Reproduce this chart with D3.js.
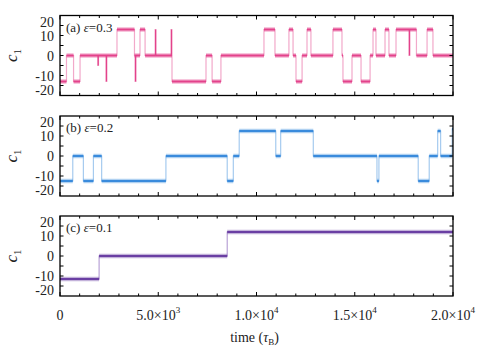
<!DOCTYPE html>
<html>
<head>
<meta charset="utf-8">
<script src="https://cdn.jsdelivr.net/npm/d3@7"></script>
<style>
  body { margin: 0; background: #fff; }
  svg text { font-family: "Liberation Serif", "DejaVu Serif", serif; fill: #222; }
</style>
</head>
<body>
<svg id="chart" width="487" height="352"></svg>
<script>
// switching times (tau_B) and the level held from each time on
var timesA  = [0, 330, 690, 1020, 2900, 3790, 4070, 4330, 5700, 7430, 7740, 8190, 10380, 10940, 11650, 11860,
               12010, 12320, 12570, 12770, 13890, 14350, 14400, 14860, 15320, 15780, 15930, 16080, 16540, 16740,
               17100, 18140, 18680, 18980];
var levelsA = [-13, 0, -13, 0, 13, 0, 13, 0, -13, 0, -13, 0, 13, 0, 13, 0,
               -13, 0, 13, 0, 13, 0, -13, 0, -13, 0, 13, 0, 13, 0,
               13, 0, 13, 0];
// short excursions [time, level]
var spikesA = [[1920, -5], [2340, -13], [3820, -13], [4840, 13], [5650, 13], [17760, 0]];

var timesB  = [0, 650, 1190, 1700, 2120, 5390, 8510, 8820, 9120, 10980, 11230, 12890, 16130, 16230,
               18230, 18790, 19220, 19370, 19960];
var levelsB = [-12.5, 0, -12.5, 0, -12.5, 0, -12.5, 0, 12.5, 0, 12.5, 0, -12.5, 0,
               -12.5, 0, 12.5, 0, 13.5];
var spikesB = [];

var timesC  = [0, 1990, 8510];
var levelsC = [-11.5, 0, 12];
var spikesC = [];

var tEnd = 20000;
var yTickLabels = [20, 10, 0, -10, -20];
var xTickValues = [0, 5000, 10000, 15000, 20000];
var xTickText = [["0", ""], ["5.0\u00d710", "3"], ["1.0\u00d710", "4"], ["1.5\u00d710", "4"], ["2.0\u00d710", "4"]];

var panels = [
  {times: timesA, levels: levelsA, spikes: spikesA, color: "#e3428b", light: "#f2a9ca", tag: "(a) ", eps: "0.3"},
  {times: timesB, levels: levelsB, spikes: spikesB, color: "#3a8bdc", light: "#a6cbef", tag: "(b) ", eps: "0.2"},
  {times: timesC, levels: levelsC, spikes: spikesC, color: "#6a3fa3", light: "#b9a2d6", tag: "(c) ", eps: "0.1"}
];

var svg = d3.select("#chart");
var left = 60, w = 393, h = 80;
var tops = [15.5, 116, 216];

var x = d3.scaleLinear().domain([0, tEnd]).range([0, w]);
var y = d3.scaleLinear().domain([-20, 20]).range([h, 0]);

function levelAt(p, t) {
  var k = d3.bisectRight(p.times, t) - 1;
  return p.levels[Math.max(k, 0)];
}

panels.forEach(function(p, i) {
  var g = svg.append("g").attr("transform", "translate(" + left + "," + tops[i] + ")");

  // step path through all switches and spikes
  var pts = [];
  p.times.forEach(function(t, k) {
    var tNext = k < p.times.length - 1 ? p.times[k + 1] : tEnd;
    pts.push([t, p.levels[k]]);
    p.spikes.forEach(function(s) {
      if (s[0] > t && s[0] < tNext) {
        pts.push([s[0], p.levels[k]], [s[0], s[1]], [s[0] + 40, s[1]], [s[0] + 40, p.levels[k]]);
      }
    });
    pts.push([tNext, p.levels[k]]);
  });

  var line = d3.line().x(function(d) { return x(d[0]); }).y(function(d) { return y(d[1]); });

  g.append("path").attr("d", line(pts))
    .attr("fill", "none").attr("stroke", p.light).attr("stroke-width", 1.2);

  // plateaus drawn thicker, as the noise band
  p.times.forEach(function(t, k) {
    var tNext = k < p.times.length - 1 ? p.times[k + 1] : tEnd;
    g.append("line")
      .attr("x1", x(t)).attr("x2", x(tNext))
      .attr("y1", y(p.levels[k])).attr("y2", y(p.levels[k]))
      .attr("stroke", p.color).attr("stroke-opacity", 0.4).attr("stroke-width", 4.5);
    g.append("line")
      .attr("x1", x(t)).attr("x2", x(tNext))
      .attr("y1", y(p.levels[k])).attr("y2", y(p.levels[k]))
      .attr("stroke", p.color).attr("stroke-width", 2);
  });
  p.spikes.forEach(function(s) {
    g.append("line")
      .attr("x1", x(s[0]) + 0.5).attr("x2", x(s[0]) + 0.5)
      .attr("y1", y(levelAt(p, s[0]))).attr("y2", y(s[1]))
      .attr("stroke", p.color).attr("stroke-width", 1.2);
  });

  // ticks on all four sides, pointing inward
  var xMinor = d3.range(0, tEnd + 1, 1000);
  [0, h].forEach(function(yy, side) {
    g.selectAll(null).data(xMinor).join("line")
      .attr("x1", function(d) { return x(d); }).attr("x2", function(d) { return x(d); })
      .attr("y1", yy)
      .attr("y2", function(d) { var len = d % 5000 === 0 ? 4 : 2.5; return side ? yy - len : yy + len; })
      .attr("stroke", "#000").attr("stroke-width", 1);
  });
  var yMinor = d3.range(-15, 16, 5);
  [0, w].forEach(function(xx, side) {
    g.selectAll(null).data(yMinor).join("line")
      .attr("y1", function(d) { return y(d); }).attr("y2", function(d) { return y(d); })
      .attr("x1", xx)
      .attr("x2", side ? xx - 3.5 : xx + 3.5)
      .attr("stroke", "#000").attr("stroke-width", 1);
  });

  g.append("rect").attr("width", w).attr("height", h)
    .attr("fill", "none").attr("stroke", "#000").attr("stroke-width", 1.3);

  // y tick labels; the end labels are pulled inside the frame
  g.selectAll(null).data(yTickLabels).join("text")
    .attr("x", -6)
    .attr("y", function(d) { return d === 20 ? y(d) + 11 : d === -20 ? y(d) - 1 : y(d) + 5; })
    .attr("text-anchor", "end").attr("font-size", 14)
    .text(function(d) { return d; });

  var lab = g.append("text").attr("x", 6).attr("y", 16).attr("font-size", 13);
  lab.append("tspan").text(p.tag);
  lab.append("tspan").attr("font-style", "italic").text("\u03b5");
  lab.append("tspan").text("=" + p.eps);

  var yl = g.append("text")
    .attr("transform", "translate(-43," + (h / 2) + ") rotate(-90)")
    .attr("text-anchor", "middle").attr("font-size", 17);
  yl.append("tspan").attr("font-style", "italic").text("c");
  yl.append("tspan").attr("font-size", 11).attr("dy", 4).text("1");

  if (i === 2) {
    xTickValues.forEach(function(v, k) {
      var t = g.append("text").attr("x", x(v)).attr("y", h + 24)
        .attr("text-anchor", "middle").attr("font-size", 14);
      t.append("tspan").text(xTickText[k][0]);
      if (xTickText[k][1]) t.append("tspan").attr("font-size", 9).attr("dy", -7).text(xTickText[k][1]);
    });
    var xl = g.append("text").attr("x", w / 2 - 2).attr("y", h + 46)
      .attr("text-anchor", "middle").attr("font-size", 14);
    xl.append("tspan").text("time (");
    xl.append("tspan").attr("font-style", "italic").text("\u03c4");
    xl.append("tspan").attr("font-size", 9).attr("dy", 3).text("B");
    xl.append("tspan").attr("dy", -3).text(")");
  }
});
</script>
</body>
</html>
